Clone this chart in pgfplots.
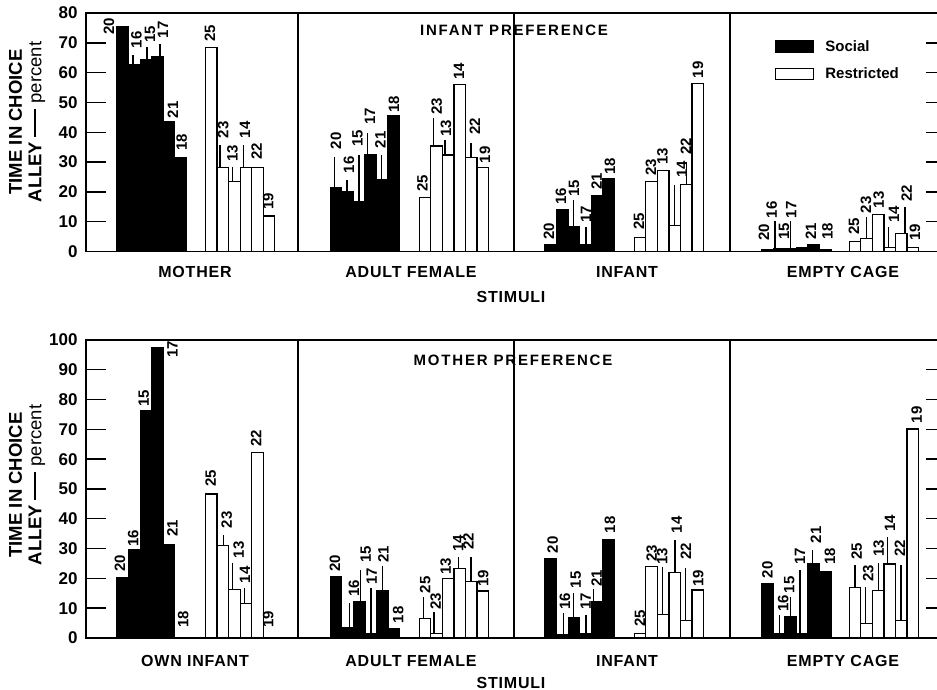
\documentclass[border=0pt]{standalone}
\usepackage{fontspec}
\setmainfont{Liberation Sans}
\newfontfamily\spaced[LetterSpace=12]{Liberation Sans}
\newfontfamily\catfont[LetterSpace=5]{Liberation Sans}
\usepackage{pgfplots}
\usepackage{pgfplotstable}
\pgfplotsset{compat=1.18}

\newcommand\lab{\bfseries\fontsize{15}{15}\selectfont}
\newcommand\cat{\catfont\bfseries\fontsize{16}{16}\selectfont}
\newcommand\tck{\bfseries\fontsize{17}{17}\selectfont}
\newcommand\leg{\bfseries\fontsize{15}{15}\selectfont}

% columns: bar centre x, value y, label x, label bottom y, leader x, leader top y, label
\pgfplotstableread{
x y lx ly qx lt lab
122.8 75.5 109 72.6 109 75.5 20
134.3 62.6 136.5 68.2 133 66 16
145.9 64.5 150 70.1 147 68.5 15
157.4 65.5 163 71.5 160 69.5 17
169.0 43.6 173 44.7 173 43.6 21
180.5 31.5 181.7 33.8 181.7 31.5 18
336.1 21.4 336 34.3 334.3 31.7 20
347.6 20.1 349 26.2 347 24 16
359.2 16.9 357.5 35.2 359 32.4 15
370.7 32.4 370 42.4 367.7 39.7 17
382.3 24.2 380.5 34.6 381.7 32.4 21
393.8 45.5 394 46.6 394 45.5 18
550.8 2.2 549 3.9 549 2.2 20
562.3 13.9 561 15.6 561 13.9 16
573.9 8.3 574 18.4 573.3 17.3 15
585.4 2.2 586 9.7 586 8.3 17
597.0 18.6 596.7 20.6 596.7 18.6 21
608.5 24.3 610 25.7 610 24.3 18
767.5 0.6 764 3.6 764 0.6 20
779.0 1.0 771.7 11.1 775 10.4 16
790.6 1.0 784 3.9 784 1.0 15
802.1 1.2 791.3 11.1 790.7 10.4 17
813.7 2.2 810.8 3.9 810.8 2.2 21
825.2 0.6 827.5 3.9 827.5 0.6 18
}\TopSocial

\pgfplotstableread{
x y lx ly qx lt lab
211.3 68.5 210 70.4 210 68.5 25
222.8 28.1 223.3 38 220 35.7 23
234.4 23.4 232.5 30.1 232.7 28.5 13
245.9 28.1 245 38 243.3 35.7 14
257.5 28.1 256.7 30.7 256.7 28.1 22
269.0 11.9 268.3 13.9 268.3 11.9 19
425.1 18.1 422.5 20.1 422.5 18.1 25
436.6 35.4 436.7 45.8 433.3 44.7 23
448.2 32.4 446 38.5 445 37.4 13
459.7 56.1 459 57.6 459 56.1 14
471.3 31.5 475 39.1 471 36.3 22
482.8 28.1 485 29.6 485 28.1 19
640.1 4.8 639 7.2 639 4.8 25
651.6 23.4 651 25.3 651 23.4 23
663.2 27.1 662.5 29 662.5 27.1 13
674.7 8.6 682 24.6 674.3 22.3 14
686.3 22.6 686 32.4 686.7 30.1 22
697.8 56.4 698 58.1 698 56.4 19
855.1 3.4 854 5.5 854 3.4 25
866.6 4.3 866 12.8 866.7 11.7 23
878.2 12.5 878.7 14.5 878.7 12.5 13
889.7 1.3 894 9.5 888.3 8.3 14
901.3 6.1 906.7 16.7 905 15 22
912.8 1.4 915 3.6 915 1.4 19
}\TopRestricted

\pgfplotstableread{
x y lx ly qx lt lab
122.8 20.4 120 22.2 120 20.4 20
134.3 29.5 133.3 30.6 133.3 29.5 16
145.9 76.3 143.8 77.6 143.8 76.3 15
157.4 97.4 172.5 93.9 172.5 97.4 17
169.0 31.5 172.5 34.0 172.5 31.5 21
180.5 0 183.3 3.3 183.3 0 18
336.1 20.6 335 22.3 335 20.6 20
347.6 3.5 354 13.9 349.3 11.6 16
359.2 12.2 365.8 25.1 360.7 22.8 15
370.7 1.5 371.7 17.8 371 16.8 17
382.3 15.8 383.3 25.1 382.7 24.3 21
393.8 3.0 398.3 4.9 398.3 3.0 18
550.8 26.7 552.8 28.4 552.8 26.7 20
562.3 1.0 565 9.4 563.3 8.4 16
573.9 6.9 575.8 16.7 573.3 15 15
585.4 1.5 585.8 9.4 586 7.7 17
597.0 12.2 596.7 17.2 593.3 16.5 21
608.5 33.1 610 35.1 610 33.1 18
767.5 18.1 767.5 20 767.5 18.1 20
779.0 1.5 783.3 8.8 779.3 7.7 16
790.6 7.2 789.2 15 790.7 13.9 15
802.1 1.5 800 24.5 800 22.8 17
813.7 25.1 815.8 31.8 812.7 29.5 21
825.2 22.3 830 24.5 830 22.3 18
}\BotSocial

\pgfplotstableread{
x y lx ly qx lt lab
211.3 48.3 210.8 50.8 210.8 48.3 25
222.8 31.0 226.7 36.8 223.3 34.6 23
234.4 16.3 238.7 26.7 232.7 25.1 13
245.9 11.6 245 18.3 244.3 16.7 14
257.5 62.3 256.2 64.2 256.2 62.3 22
269.0 0.3 268.3 3.3 268.3 0.3 19
425.1 6.6 425.3 15 423.3 13.9 25
436.6 1.5 435.8 9.4 434 8.8 23
448.2 20.0 445.8 21.1 445.8 20.0 13
459.7 23.4 458.3 29 458.3 27.3 14
471.3 18.9 468.3 29.5 471 27.3 22
482.8 15.8 483.3 17.2 483.3 15.8 19
640.1 1.5 640 3.8 640 1.5 25
651.6 23.9 651.7 25.6 651.7 23.9 23
663.2 8.0 662.2 24.5 662.7 23.9 13
674.7 21.9 676.7 35.1 675 32.9 14
686.3 6.0 685.8 26.2 685.7 23.4 22
697.8 16.1 698.3 17.2 698.3 16.1 19
855.1 17.0 856.7 26.2 855 24.5 25
866.6 4.9 868.3 18.9 865.7 17.2 23
878.2 15.9 878.7 27.3 878.3 25.1 13
889.7 24.8 890 35.7 887.7 34 14
901.3 6.0 900 27.3 901 24.5 22
912.8 70.1 916.7 72 916.7 70.1 19
}\BotRestricted

\newcommand{\bars}[2]{%
  \addplot[ybar, bar shift=0pt, bar width=11.55, fill=#2, draw=black, line width=1.2pt, forget plot]
    table[x=x, y=y] {#1};
  \addplot[draw=none, mark=none, forget plot,
    error bars/.cd, y dir=plus, y explicit, error mark=none,
    error bar style={line width=1.2pt, draw=black, solid}]
    table[x=qx, y=y, y error expr=\thisrow{lt}-\thisrow{y}] {#1};
  \addplot[draw=none, mark=none, forget plot, nodes near coords, point meta=explicit symbolic,
    every node near coord/.append style={rotate=90, anchor=west, inner sep=0pt, font=\lab, black}]
    table[x=lx, y=ly, meta=lab] {#1};
}

\pgfplotsset{
  panel/.style={
    scale only axis, width=860pt, anchor=south west,
    xmin=86, xmax=946, ymin=0,
    ytick pos=both, yticklabel pos=left, tick align=inside,
    major tick length=20pt,
    y tick style={line width=1.4pt, black},
    x tick style={draw=none},
    axis line style={line width=1.8pt},
    xtick={195,411,627,843},
    xticklabel style={font=\cat, anchor=base},
    yticklabel style={font=\tck, xshift=-5pt},
    /pgf/number format/assume math mode=true,
    clip=false,
  }
}

\begin{document}
\begin{tikzpicture}[x=1pt, y=1pt]
\useasboundingbox (0,0) rectangle (937,690);

\begin{axis}[panel, at={(86pt,438.5pt)}, height=238.4pt, ymax=80,
  ytick={0,10,...,80},
  xticklabels={MOTHER, ADULT FEMALE, INFANT, EMPTY CAGE},
  xticklabel style={yshift=-26.5pt},
  legend style={at={(axis cs:775,71.6)}, anchor=north west, draw=none, fill=none,
    font=\leg, row sep=11pt, column sep=9pt, inner sep=0pt},
  legend cell align=left]
  \bars{\TopSocial}{black}
  \bars{\TopRestricted}{white}
  \draw[line width=1.4pt] (axis cs:298,0) -- (axis cs:298,80);
  \draw[line width=1.4pt] (axis cs:514,0) -- (axis cs:514,80);
  \draw[line width=1.4pt] (axis cs:730,0) -- (axis cs:730,80);
  \addlegendimage{legend image code/.code={\draw[fill=black, draw=black, line width=1.2pt] (0pt,-5.5pt) rectangle (38pt,5.5pt);}}
  \addlegendentry{Social}
  \addlegendimage{legend image code/.code={\draw[fill=white, draw=black, line width=1.2pt] (0pt,-5.5pt) rectangle (38pt,5.5pt);}}
  \addlegendentry{Restricted}
\end{axis}

\begin{axis}[panel, at={(86pt,52pt)}, height=298pt, ymax=100,
  ytick={0,10,...,100},
  xticklabels={OWN INFANT, ADULT FEMALE, INFANT, EMPTY CAGE},
  xticklabel style={yshift=-29pt}]
  \bars{\BotSocial}{black}
  \bars{\BotRestricted}{white}
  \draw[line width=1.4pt] (axis cs:298,0) -- (axis cs:298,100);
  \draw[line width=1.4pt] (axis cs:514,0) -- (axis cs:514,100);
  \draw[line width=1.4pt] (axis cs:730,0) -- (axis cs:730,100);
\end{axis}

\node[font={\spaced\bfseries\fontsize{15}{15}\selectfont}] at (514,660) {INFANT PREFERENCE};
\node[font={\spaced\bfseries\fontsize{15}{15}\selectfont}] at (513,330) {MOTHER PREFERENCE};
\node[font=\cat] at (511,393) {STIMULI};
\node[font=\cat, inner sep=0.5pt] at (511,7.5) {STIMULI};
\node[rotate=90, align=center, font={\bfseries\fontsize{18.5}{19.5}\selectfont}] at (27,568)
  {TIME IN CHOICE\\ALLEY \rule[5.5pt]{28pt}{1.4pt} {\mdseries percent}};
\node[rotate=90, align=center, font={\bfseries\fontsize{18.5}{19.5}\selectfont}] at (27,205)
  {TIME IN CHOICE\\ALLEY \rule[5.5pt]{28pt}{1.4pt} {\mdseries percent}};
\end{tikzpicture}
\end{document}
